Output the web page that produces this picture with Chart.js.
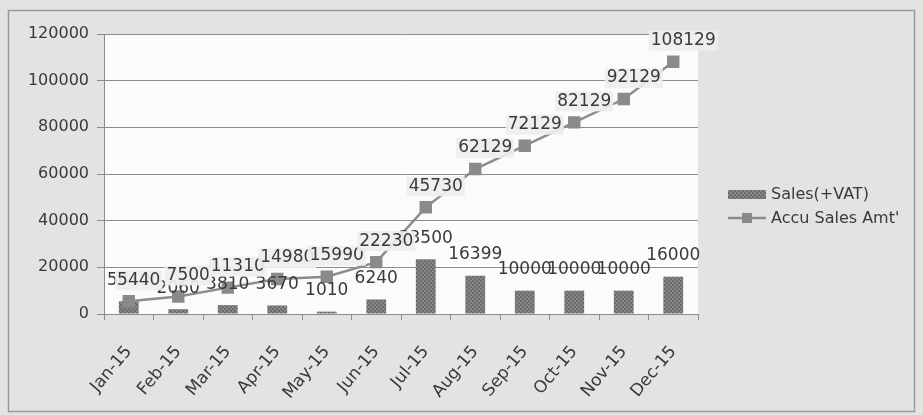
<!DOCTYPE html>
<html>
<head>
<meta charset="utf-8">
<script src="https://cdn.jsdelivr.net/npm/chart.js@4/dist/chart.umd.min.js"></script>
<style>
  html, body { margin: 0; padding: 0; background: #e3e3e3; }
  #wrap { width: 923px; height: 415px; position: relative; }
</style>
</head>
<body>
<div id="wrap"><canvas id="salesChart" width="923" height="415"></canvas></div>
<script>
const months = ["Jan-15", "Feb-15", "Mar-15", "Apr-15", "May-15", "Jun-15",
    "Jul-15", "Aug-15", "Sep-15", "Oct-15", "Nov-15", "Dec-15"];
const salesVat = [5440, 2060, 3810, 3670, 1010, 6240, 23500, 16399, 10000, 10000, 10000, 16000];
const accuSales = [5440, 7500, 11310, 14980, 15990, 22230, 45730, 62129, 72129, 82129, 92129, 108129];
const yTicks = [0, 20000, 40000, 60000, 80000, 100000, 120000];

const FONT = "'DejaVu Sans', sans-serif";
const TEXT = "#3a3a3a";

// dotted grey fill like the scanned bars
function barPattern() {
    const c = document.createElement('canvas');
    c.width = 4; c.height = 4;
    const g = c.getContext('2d');
    g.fillStyle = '#878787';
    g.fillRect(0, 0, 4, 4);
    g.fillStyle = '#6c6c6c';
    g.fillRect(0, 0, 2, 2);
    g.fillRect(2, 2, 2, 2);
    return g.createPattern(c, 'repeat');
}
const barFill = barPattern();

// page frame + white plot area
const backdrop = {
    id: 'backdrop',
    beforeDraw(chart) {
        const { ctx, chartArea: a } = chart;
        ctx.save();
        ctx.fillStyle = '#e3e3e3';
        ctx.fillRect(0, 0, chart.width, chart.height);
        ctx.strokeStyle = '#9a9a9a';
        ctx.lineWidth = 1.5;
        ctx.strokeRect(8.5, 10.5, chart.width - 17, chart.height - 14);
        ctx.fillStyle = '#fbfbfb';
        ctx.fillRect(a.left, a.top, a.right - a.left, a.bottom - a.top);
        ctx.restore();
    }
};

// value labels: bars first, line labels on top with a pale box
const valueLabels = {
    id: 'valueLabels',
    afterDatasetsDraw(chart) {
        const ctx = chart.ctx;
        ctx.save();
        ctx.font = '17px ' + FONT;
        ctx.textAlign = 'center';
        ctx.textBaseline = 'middle';
        const bars = chart.getDatasetMeta(0).data;
        bars.forEach((el, i) => {
            ctx.fillStyle = TEXT;
            ctx.fillText(String(salesVat[i]), el.x, el.y - 21);
        });
        const pts = chart.getDatasetMeta(1).data;
        pts.forEach((el, i) => {
            const txt = String(accuSales[i]);
            const x = el.x + 10, y = el.y - 21;
            const w = ctx.measureText(txt).width + 4;
            ctx.fillStyle = 'rgba(238,238,238,0.92)';
            ctx.fillRect(x - w / 2, y - 10, w, 20);
            ctx.fillStyle = TEXT;
            ctx.fillText(txt, x, y);
        });
        ctx.restore();
    }
};

// legend at the right like the original
const sideLegend = {
    id: 'sideLegend',
    afterDraw(chart) {
        const ctx = chart.ctx;
        ctx.save();
        ctx.font = '16px ' + FONT;
        ctx.textBaseline = 'middle';
        ctx.fillStyle = barFill;
        ctx.fillRect(728, 190, 38, 9);
        ctx.strokeStyle = '#8c8c8c';
        ctx.lineWidth = 2.5;
        ctx.beginPath();
        ctx.moveTo(728, 218);
        ctx.lineTo(766, 218);
        ctx.stroke();
        ctx.fillStyle = '#8a8a8a';
        ctx.fillRect(742, 213, 10, 10);
        ctx.fillStyle = TEXT;
        ctx.fillText('Sales(+VAT)', 771, 195);
        ctx.fillText("Accu Sales Amt'", 771, 219);
        ctx.restore();
    }
};

new Chart(document.getElementById('salesChart'), {
    data: {
        labels: months,
        datasets: [{
            type: 'bar',
            label: 'Sales(+VAT)',
            data: salesVat,
            backgroundColor: barFill,
            categoryPercentage: 0.8,
            barPercentage: 0.5,
            order: 2
        }, {
            type: 'line',
            label: "Accu Sales Amt'",
            data: accuSales,
            borderColor: '#8c8c8c',
            borderWidth: 2.5,
            pointStyle: 'rect',
            pointRadius: 7,
            pointBackgroundColor: '#8a8a8a',
            pointBorderColor: '#8a8a8a',
            tension: 0,
            order: 1
        }]
    },
    options: {
        responsive: false,
        animation: false,
        devicePixelRatio: 1,
        layout: { padding: { left: 10, top: 34, right: 225, bottom: 5 } },
        plugins: {
            legend: { display: false },
            tooltip: { enabled: false }
        },
        scales: {
            x: {
                grid: { drawOnChartArea: false, drawTicks: true, tickLength: 6, color: '#8c8c8c' },
                border: { color: '#8c8c8c' },
                ticks: {
                    color: TEXT,
                    font: { family: FONT, size: 17 },
                    minRotation: 50,
                    maxRotation: 50,
                    autoSkip: false,
                    padding: 22
                },
                afterFit(scale) { scale.height = 96; }
            },
            y: {
                min: 0,
                max: 120000,
                grid: { color: '#8c8c8c', tickLength: 7 },
                border: { color: '#8c8c8c' },
                ticks: {
                    color: TEXT,
                    font: { family: FONT, size: 16 },
                    padding: 8,
                    callback: v => String(v)
                },
                afterBuildTicks(scale) { scale.ticks = yTicks.map(v => ({ value: v })); },
                afterFit(scale) { scale.width = 94; }
            }
        }
    },
    plugins: [backdrop, valueLabels, sideLegend]
});
</script>
</body>
</html>
